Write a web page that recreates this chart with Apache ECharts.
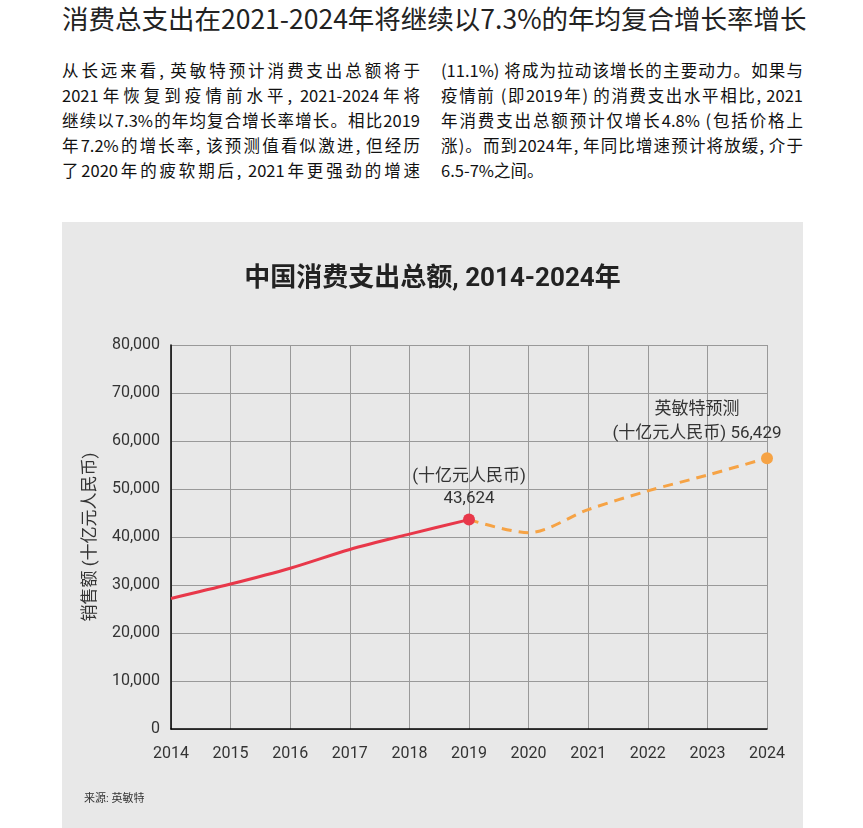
<!DOCTYPE html>
<html><head><meta charset="utf-8">
<script src="https://cdn.jsdelivr.net/npm/echarts@6/dist/echarts.min.js"></script>
<style>
html,body{margin:0;padding:0;background:#fff;width:863px;height:828px;overflow:hidden;font-family:'Noto Sans CJK SC',sans-serif;color:#222;}
#title{position:absolute;left:62px;top:0px;font-size:26.5px;line-height:36px;white-space:nowrap;color:#222;}
.col{position:absolute;top:58px;width:358px;font-size:16.5px;line-height:25px;font-weight:400;color:#111;}
.col div{white-space:nowrap;text-align:justify;text-align-last:justify;}
.col div.last{text-align-last:left;}
#chart{position:absolute;left:62px;top:222px;width:741px;height:606px;}
</style></head>
<body>
<div id="title">消费总支出在2021-2024年将继续以7.3%的年均复合增长率增长</div>
<div class="col" style="left:62px">
<div>从长远来看, 英敏特预计消费支出总额将于</div>
<div>2021年恢复到疫情前水平, 2021-2024年将</div>
<div>继续以7.3%的年均复合增长率增长。相比2019</div>
<div>年7.2%的增长率, 该预测值看似激进, 但经历</div>
<div>了2020年的疲软期后, 2021年更强劲的增速</div>
</div>
<div class="col" style="left:441px;width:362px">
<div>(11.1%) 将成为拉动该增长的主要动力。如果与</div>
<div>疫情前 (即2019年) 的消费支出水平相比, 2021</div>
<div>年消费支出总额预计仅增长4.8% (包括价格上</div>
<div>涨)。而到2024年, 年同比增速预计将放缓, 介于</div>
<div class="last">6.5-7%之间。</div>
</div>
<div id="chart"></div>
<script>
const years = ['2014','2015','2016','2017','2018','2019','2020','2021','2022','2023','2024'];
const actual = [27200, 30200, 33500, 37400, 40600, 43624];
const forecast = [40900, 45700, 49600, 52900, 56429];
const yTicks = [0, 10000, 20000, 30000, 40000, 50000, 60000, 70000, 80000];

const FONT = "Roboto, 'Noto Sans CJK SC', sans-serif";
const red = '#e8384a', orange = '#f6a345';

const actualData = years.map((y, i) => i < actual.length ? actual[i] : '-');
actualData[5] = {value: actual[5], symbol: 'circle', symbolSize: 12,
  label: {show: true, position: 'top', distance: 4, formatter: '(十亿元人民币)\n43,624',
    fontSize: 17, lineHeight: 22, color: '#333', fontFamily: FONT}};
const forecastData = years.map((y, i) => {
  if (i < 5) return '-';
  if (i === 5) return actual[5];
  return forecast[i - 6];
});
forecastData[10] = {value: forecast[4], symbol: 'circle', symbolSize: 12,
  label: {show: true, position: 'top', distance: 6, offset: [-70, 0], align: 'center',
    formatter: '英敏特预测\n(十亿元人民币) 56,429',
    fontSize: 17, lineHeight: 24, color: '#333', fontFamily: FONT}};

const chart = echarts.init(document.getElementById('chart'));
chart.setOption({
  backgroundColor: '#e8e8e8',
  animation: false,
  title: {text: '中国消费支出总额, 2014-2024年', left: 'center', top: 39,
    textStyle: {fontSize: 26, fontWeight: 'bold', color: '#222', fontFamily: FONT}},
  graphic: [{type: 'text', left: 22, top: 572, style: {text: '来源: 英敏特', fontSize: 11, fill: '#333', fontFamily: FONT}}],
  grid: {left: 109, right: 36, top: 123, bottom: 99},
  xAxis: {type: 'category', data: years, boundaryGap: false,
    axisLine: {lineStyle: {color: '#000', width: 1.5}}, axisTick: {show: false},
    axisLabel: {margin: 17, fontSize: 16, color: '#333', fontFamily: FONT},
    splitLine: {show: true, lineStyle: {color: '#999', width: 1}}},
  yAxis: {type: 'value', min: yTicks[0], max: yTicks[yTicks.length-1], interval: yTicks[1]-yTicks[0],
    name: '销售额 (十亿元人民币)', nameLocation: 'middle', nameGap: 72, nameRotate: 90,
    nameTextStyle: {fontSize: 17, color: '#333', fontFamily: FONT},
    axisLine: {show: true, lineStyle: {color: '#000', width: 1.5}}, axisTick: {show: false},
    axisLabel: {margin: 11, fontSize: 16, color: '#333', fontFamily: FONT,
      formatter: v => v.toLocaleString('en-US')},
    splitLine: {lineStyle: {color: '#999', width: 1}}},
  series: [
    {type: 'line', data: forecastData, smooth: 0.3, symbol: 'none', showSymbol: true,
      itemStyle: {color: orange}, lineStyle: {color: orange, width: 3, type: [10, 7]}, z: 2},
    {type: 'line', data: actualData, smooth: 0.3, symbol: 'none', showSymbol: true,
      itemStyle: {color: red}, lineStyle: {color: red, width: 3}, z: 3}
  ]
});
</script>
</body></html>
